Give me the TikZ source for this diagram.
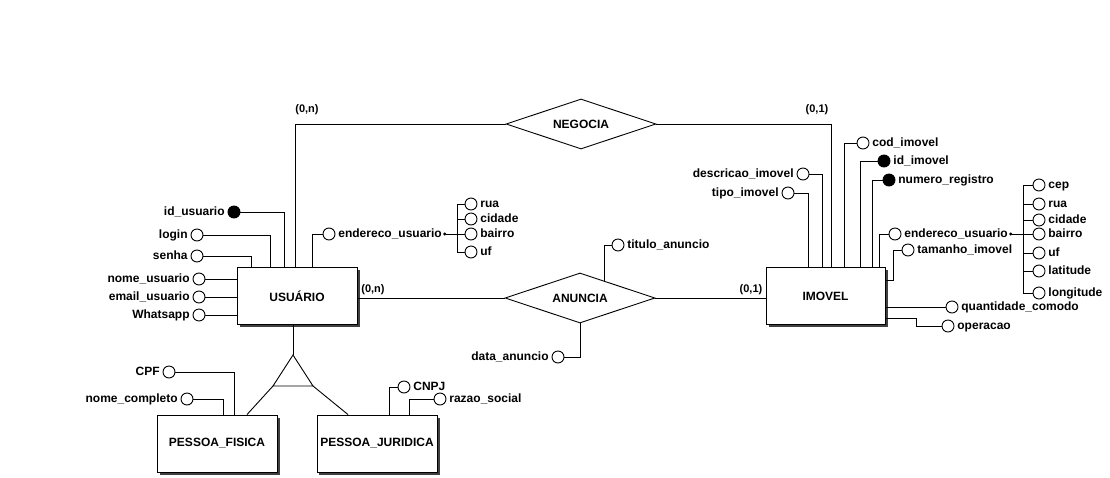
\documentclass[tikz,border=0pt]{standalone}
\usepackage{fontspec}
\setmainfont{Liberation Sans}
\usetikzlibrary{positioning,shapes.geometric,shadows,arrows.meta}

\begin{document}
\begin{tikzpicture}
  [x=1pt, y=-1pt, line width=0.9pt, font=\fontsize{12}{14}\selectfont\bfseries]
  \tikzstyle{entity_box} = [draw=black, fill=white, minimum width=120pt, minimum height=57pt, drop shadow={shadow xshift=2.5pt, shadow yshift=-2.5pt, fill=black!75, opacity=1}];
  \tikzstyle{rel_box}    = [draw=black, fill=white, diamond, aspect=3, inner sep=0pt, minimum width=150pt, minimum height=50pt];
  \tikzstyle{attr_circ}  = [draw=black, fill=white, circle, inner sep=0pt, minimum size=12pt];
  \tikzstyle{key_circ}   = [attr_circ, fill=black];
  \tikzstyle{attr_txt}   = [inner sep=1pt, text height=8.8pt, text depth=2.6pt];
  \tikzstyle{card_txt}   = [inner sep=0pt, font=\fontsize{11}{13}\selectfont\bfseries];

  \useasboundingbox[fill=white] (0,0) rectangle (1110,477);

  \node[entity_box] (usuario) at (297,296) {USUÁRIO};
  \node[entity_box, minimum width=119pt] (imovel) at (825.5,296) {IMOVEL};
  \node[entity_box] (pfisica) at (217,443.5) {PESSOA\_FISICA};
  \node[entity_box, minimum width=118pt] (pjuridica) at (377,443.5) {PESSOA\_JURIDICA};

  \node[rel_box] (negocia) at (581,124) {NEGOCIA};
  \node[rel_box] (anuncia) at (580,298) {ANUNCIA};

  \node[card_txt] (card_neg_u) at (307,110) {(0,n)};
  \node[card_txt] (card_neg_i) at (817,110) {(0,1)};
  \node[card_txt] (card_anu_u) at (373,290) {(0,n)};
  \node[card_txt] (card_anu_i) at (751,290) {(0,1)};

  \draw (usuario.north -| 295,0) |- (negocia.west);
  \draw (negocia.east) -| (imovel.north -| 831,0);
  \draw (usuario.east |- anuncia) -- (anuncia.west);
  \draw (anuncia.east) -- (imovel.west |- anuncia);

  % atributos de USUARIO
  \node[key_circ]  (c_id) at (234,212) {};
  \node[attr_txt, left=1.5pt of c_id] (t_id) {id\_usuario};
  \node[attr_circ] (c_login) at (197,235) {};
  \node[attr_txt, left=1.5pt of c_login] (t_login) {login};
  \node[attr_circ] (c_senha) at (197,256) {};
  \node[attr_txt, left=1.5pt of c_senha] (t_senha) {senha};
  \node[attr_circ] (c_nome) at (199,279) {};
  \node[attr_txt, left=1.5pt of c_nome] (t_nome) {nome\_usuario};
  \node[attr_circ] (c_email) at (199,297) {};
  \node[attr_txt, left=1.5pt of c_email] (t_email) {email\_usuario};
  \node[attr_circ] (c_whats) at (199,315) {};
  \node[attr_txt, left=1.5pt of c_whats] (t_whats) {Whatsapp};
  \node[attr_circ] (c_endu) at (329,234) {};
  \node[attr_txt, right=1.5pt of c_endu] (t_endu) {endereco\_usuario};

  \draw (c_id.east) -| (usuario.north -| 284,0);
  \draw (c_login.east) -| (usuario.north -| 270,0);
  \draw (c_senha.east) -| (usuario.north -| 251,0);
  \draw (c_nome.east) -- (usuario.west |- c_nome);
  \draw (c_email.east) -- (usuario.west |- c_email);
  \draw (c_whats.east) -- (usuario.west |- c_whats);
  \draw (c_endu.west) -| (usuario.north -| 312,0);

  \coordinate (endu_bus) at (457,234);
  \node[attr_circ] (c_rua) at (471,204) {};
  \node[attr_txt, right=1.5pt of c_rua] (t_rua) {rua};
  \node[attr_circ] (c_cid) at (471,219) {};
  \node[attr_txt, right=1.5pt of c_cid] (t_cid) {cidade};
  \node[attr_circ] (c_bai) at (471,234) {};
  \node[attr_txt, right=1.5pt of c_bai] (t_bai) {bairro};
  \node[attr_circ] (c_uf) at (471,252) {};
  \node[attr_txt, right=1.5pt of c_uf] (t_uf) {uf};

  \draw[{Circle[length=3pt]}-] (t_endu.east) -- (c_bai.west);
  \draw (c_rua.west) -| (c_uf.west -| endu_bus) -- (c_uf.west);
  \draw (c_cid.west) -- (c_cid.west -| endu_bus);

  % atributos de ANUNCIA
  \node[attr_circ] (c_tit) at (618,245) {};
  \node[attr_txt, right=1.5pt of c_tit] (t_tit) {titulo\_anuncio};
  \node[attr_circ] (c_data) at (558,357) {};
  \node[attr_txt, left=1.5pt of c_data] (t_data) {data\_anuncio};

  \draw (anuncia.35) |- (c_tit.west);
  \draw (anuncia.south) |- (c_data.east);

  % atributos de IMOVEL
  \node[attr_circ] (c_cod) at (863,143) {};
  \node[attr_txt, right=1.5pt of c_cod] (t_cod) {cod\_imovel};
  \node[key_circ]  (c_idim) at (884,161) {};
  \node[attr_txt, right=1.5pt of c_idim] (t_idim) {id\_imovel};
  \node[key_circ]  (c_numreg) at (889,180) {};
  \node[attr_txt, right=1.5pt of c_numreg] (t_numreg) {numero\_registro};
  \node[attr_circ] (c_desc) at (803,174) {};
  \node[attr_txt, left=1.5pt of c_desc] (t_desc) {descricao\_imovel};
  \node[attr_circ] (c_tipo) at (788,193) {};
  \node[attr_txt, left=1.5pt of c_tipo] (t_tipo) {tipo\_imovel};
  \node[attr_circ] (c_endi) at (895,234) {};
  \node[attr_txt, right=1.5pt of c_endi] (t_endi) {endereco\_usuario};
  \node[attr_circ] (c_tam) at (908,250) {};
  \node[attr_txt, right=1.5pt of c_tam] (t_tam) {tamanho\_imovel};
  \node[attr_circ] (c_qtd) at (952,307) {};
  \node[attr_txt, right=1.5pt of c_qtd] (t_qtd) {quantidade\_comodo};
  \node[attr_circ] (c_oper) at (948,326) {};
  \node[attr_txt, right=1.5pt of c_oper] (t_oper) {operacao};

  \draw (c_cod.west) -| (imovel.north -| 844,0);
  \draw (c_idim.west) -| (imovel.north -| 860,0);
  \draw (c_numreg.west) -| (imovel.north -| 872,0);
  \draw (c_desc.east) -| (imovel.north -| 822,0);
  \draw (c_tipo.east) -| (imovel.north -| 808,0);
  \draw (c_endi.west) -| (imovel.north -| 879,0);
  \coordinate (tam_bend) at (893,280);
  \draw (c_tam.west) -| (tam_bend) -- (imovel.east |- tam_bend);
  \draw (imovel.east |- c_qtd) -- (c_qtd.west);
  \draw (imovel.east |- 0,318) -| (c_oper.west -| 916,0) -- (c_oper.west);

  \coordinate (endi_bus) at (1023,234);
  \node[attr_circ] (c_cep) at (1039,185) {};
  \node[attr_txt, right=1.5pt of c_cep] (t_cep) {cep};
  \node[attr_circ] (c_rua2) at (1039,204) {};
  \node[attr_txt, right=1.5pt of c_rua2] (t_rua2) {rua};
  \node[attr_circ] (c_cid2) at (1039,220) {};
  \node[attr_txt, right=1.5pt of c_cid2] (t_cid2) {cidade};
  \node[attr_circ] (c_bai2) at (1039,234) {};
  \node[attr_txt, right=1.5pt of c_bai2] (t_bai2) {bairro};
  \node[attr_circ] (c_uf2) at (1039,253) {};
  \node[attr_txt, right=1.5pt of c_uf2] (t_uf2) {uf};
  \node[attr_circ] (c_lat) at (1039,271) {};
  \node[attr_txt, right=1.5pt of c_lat] (t_lat) {latitude};
  \node[attr_circ] (c_lon) at (1039,293) {};
  \node[attr_txt, right=1.5pt of c_lon] (t_lon) {longitude};

  \draw[{Circle[length=3pt]}-] (t_endi.east) -- (c_bai2.west);
  \draw (c_cep.west) -| (c_lon.west -| endi_bus) -- (c_lon.west);
  \draw (c_rua2.west) -- (c_rua2.west -| endi_bus);
  \draw (c_cid2.west) -- (c_cid2.west -| endi_bus);
  \draw (c_uf2.west) -- (c_uf2.west -| endi_bus);
  \draw (c_lat.west) -- (c_lat.west -| endi_bus);

  % especializacao
  \coordinate (spec_top) at (293,355);
  \coordinate (spec_l) at (273,386);
  \coordinate (spec_r) at (313,386);
  \draw (usuario.south -| spec_top) -- (spec_top);
  \draw (spec_top) -- (spec_l) -- (spec_r) -- cycle;
  \draw (spec_l) -- (pfisica.north -| 247,0);
  \draw (spec_r) -- (pjuridica.north -| 348,0);

  \node[attr_circ] (c_cpf) at (169,372) {};
  \node[attr_txt, left=1.5pt of c_cpf] (t_cpf) {CPF};
  \node[attr_circ] (c_nomec) at (187,399) {};
  \node[attr_txt, left=1.5pt of c_nomec] (t_nomec) {nome\_completo};
  \node[attr_circ] (c_cnpj) at (404,387) {};
  \node[attr_txt, right=1.5pt of c_cnpj] (t_cnpj) {CNPJ};
  \node[attr_circ] (c_razao) at (440,399) {};
  \node[attr_txt, right=1.5pt of c_razao] (t_razao) {razao\_social};

  \draw (c_cpf.east) -| (pfisica.north -| 234,0);
  \draw (c_nomec.east) -| (pfisica.north -| 223,0);
  \draw (c_cnpj.west) -| (pjuridica.north -| 389,0);
  \draw (c_razao.west) -| (pjuridica.north -| 409,0);

\end{tikzpicture}
\end{document}
